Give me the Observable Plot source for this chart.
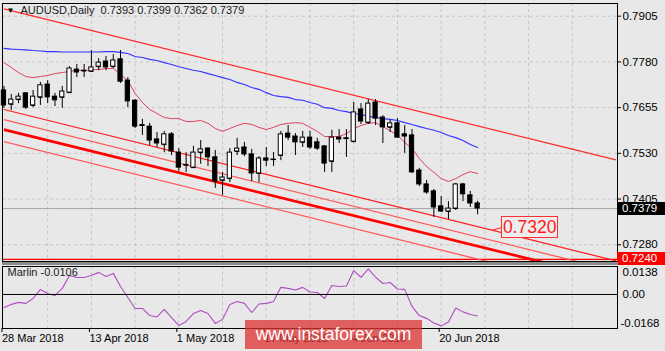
<!DOCTYPE html>
<html><head><meta charset="utf-8">
<script src="https://cdn.jsdelivr.net/npm/d3@7"></script>
<script src="https://cdn.jsdelivr.net/npm/@observablehq/plot@0.6"></script>
<style>
html,body{margin:0;padding:0;background:#e8e8e8;}
#wrap{position:relative;width:665px;height:351px;background:#e8e8e8;overflow:hidden;font-family:"Liberation Sans",Arial,sans-serif;}
#wrap svg{position:absolute;left:0;}
.box{position:absolute;box-sizing:border-box;color:#fff;font-size:11.5px;line-height:12px;padding-left:5px;}
</style></head><body><div id="wrap"></div>
<script>
// ---- data ----
const symbol = "AUDUSD", period = "Daily";
const open = [0.7702,0.7664,0.7677,0.7694,0.7661,0.7683,0.7718,0.7685,0.7683,0.7696,
0.7759,0.7755,0.7754,0.7767,0.7781,0.7767,0.7787,0.7729,0.7674,0.7607,
0.7603,0.7568,0.7554,0.7582,0.7532,0.7498,0.7491,0.7532,0.7543,0.7519,
0.7456,0.7461,0.7535,0.7546,0.7527,0.7475,0.7516,0.7513,0.7524,0.7584,
0.7576,0.7560,0.7573,0.7560,0.7549,0.7508,0.7573,0.7571,0.7562,0.7650,
0.7614,0.7669,0.7628,0.7601,0.7612,0.7582,0.7579,0.7483,0.7445,0.7426,
0.7385,0.7371,0.7379,0.7445,0.7415,0.7393];
const high = [0.7713,0.7691,0.7694,0.7696,0.7702,0.7724,0.7729,0.7694,0.7713,0.7767,
0.7773,0.7773,0.7811,0.7789,0.7795,0.7800,0.7811,0.7737,0.7677,0.7623,
0.7612,0.7587,0.7590,0.7587,0.7543,0.7532,0.7549,0.7565,0.7546,0.7538,
0.7478,0.7543,0.7571,0.7560,0.7541,0.7521,0.7546,0.7532,0.7590,0.7606,
0.7584,0.7590,0.7590,0.7571,0.7551,0.7593,0.7595,0.7595,0.7669,0.7666,
0.7677,0.7677,0.7633,0.7620,0.7625,0.7606,0.7595,0.7489,0.7456,0.7431,
0.7412,0.7398,0.7448,0.7448,0.7426,0.7399];
const low = [0.7653,0.7647,0.7666,0.7650,0.7655,0.7661,0.7666,0.7658,0.7653,0.7694,
0.7737,0.7737,0.7751,0.7756,0.7756,0.7762,0.7721,0.7655,0.7598,0.7579,
0.7551,0.7546,0.7532,0.7524,0.7480,0.7478,0.7489,0.7500,0.7494,0.7434,
0.7415,0.7450,0.7524,0.7521,0.7453,0.7450,0.7494,0.7494,0.7510,0.7565,
0.7524,0.7546,0.7541,0.7538,0.7478,0.7478,0.7557,0.7519,0.7560,0.7609,
0.7609,0.7606,0.7557,0.7587,0.7571,0.7530,0.7475,0.7439,0.7418,0.7355,
0.7368,0.7349,0.7374,0.7398,0.7382,0.7362];
const close = [0.7661,0.7677,0.7685,0.7655,0.7685,0.7716,0.7683,0.7675,0.7699,0.7762,
0.7751,0.7756,0.7765,0.7778,0.7765,0.7784,0.7726,0.7672,0.7603,0.7605,
0.7565,0.7557,0.7582,0.7535,0.7491,0.7497,0.7532,0.7541,0.7519,0.7453,
0.7464,0.7532,0.7543,0.7527,0.7475,0.7516,0.7510,0.7512,0.7582,0.7573,
0.7560,0.7573,0.7546,0.7543,0.7502,0.7573,0.7568,0.7569,0.7642,0.7617,
0.7666,0.7625,0.7601,0.7612,0.7573,0.7576,0.7478,0.7445,0.7423,0.7382,
0.7371,0.7379,0.7445,0.7418,0.7393,0.7379];
const maSlow = [0.7817,0.7815,0.7814,0.7813,0.7811,0.7810,0.7808,0.7808,0.7807,0.7807,
0.7807,0.7807,0.7807,0.7807,0.7808,0.7808,0.7806,0.7803,0.7795,0.7792,
0.7787,0.7784,0.7778,0.7773,0.7767,0.7762,0.7757,0.7754,0.7748,0.7743,
0.7737,0.7732,0.7724,0.7718,0.7710,0.7705,0.7696,0.7688,0.7685,0.7683,
0.7677,0.7675,0.7669,0.7664,0.7655,0.7653,0.7647,0.7644,0.7639,0.7636,
0.7631,0.7628,0.7625,0.7623,0.7620,0.7614,0.7609,0.7603,0.7598,0.7593,
0.7587,0.7579,0.7573,0.7565,0.7554,0.7546];
const maFast = [0.7778,0.7765,0.7751,0.7740,0.7737,0.7740,0.7743,0.7748,0.7751,0.7754,
0.7757,0.7756,0.7759,0.7759,0.7762,0.7762,0.7746,0.7729,0.7694,0.7669,
0.7650,0.7639,0.7628,0.7625,0.7625,0.7617,0.7617,0.7620,0.7612,0.7598,
0.7590,0.7598,0.7606,0.7612,0.7609,0.7601,0.7595,0.7601,0.7609,0.7612,
0.7614,0.7612,0.7601,0.7590,0.7576,0.7576,0.7576,0.7584,0.7598,0.7606,
0.7612,0.7614,0.7603,0.7592,0.7579,0.7560,0.7543,0.7516,0.7494,0.7478,
0.7461,0.7453,0.7461,0.7472,0.7480,0.7475];
const marlin = [-0.0064,-0.0049,-0.0039,-0.0044,-0.0020,0.0025,0.0005,-0.0005,0.0030,0.0094,
0.0084,0.0084,0.0094,0.0109,0.0089,0.0104,0.0039,-0.0015,-0.0069,-0.0069,
-0.0104,-0.0111,-0.0074,-0.0114,-0.0153,-0.0133,-0.0094,-0.0079,-0.0094,-0.0143,
-0.0123,-0.0049,-0.0035,-0.0044,-0.0089,-0.0047,-0.0044,-0.0035,0.0035,0.0030,
0.0022,0.0035,0.0012,0.0010,-0.0020,0.0044,0.0039,0.0042,0.0118,0.0084,
0.0126,0.0086,0.0054,0.0059,0.0027,0.0025,-0.0059,-0.0104,-0.0118,-0.0141,
-0.0155,-0.0136,-0.0067,-0.0086,-0.0099,-0.0106];
const priceTicks = [0.7905,0.7780,0.7655,0.7530,0.7405,0.7280];
const marlinTicks = [0.0138,0.00,-0.0168];
const dateLabels = ["28 Mar 2018","13 Apr 2018","1 May 2018","17 May 2018","4 Jun 2018","20 Jun 2018"];
const labelBars = [0,12,24,36,48,60];
const gridBars = [6,12,18,24,30,36,42,48,54,60,66,72,78];
const channelNames = ["top","A","B","C","D"];
const channelBars = [0,84];
const channelStart = [0.7925,0.7650,0.7622,0.7595,0.7562];
const channelEnd = [0.7512,0.7236,0.7208,0.7183,0.7147];
const bid = 0.7379;
const level = 0.7240;
const target = 0.7320, targetBar = 67;

// ---- drawing ----
const font = '"Liberation Sans", Arial, sans-serif';
const wrap = document.getElementById("wrap");
const grid = "#c4c4c4";
const bars = d3.range(open.length).map(i => ({i, o: open[i], h: high[i], l: low[i], c: close[i]}));
const chStyle = {top:["#ff2b2b",1.2], A:["#ff1c1c",1.2], B:["#ff5c5c",1.3], C:["#ff0000",2.8], D:["#ff5c5c",1.3]};
const channels = channelNames.map((n, k) => ({name: n, x1: channelBars[0], x2: channelBars[1], y1: channelStart[k], y2: channelEnd[k]}));
const last = bars[bars.length - 1];
const title = `${symbol},${period}\u00a0\u00a0${last.o.toFixed(4)} ${last.h.toFixed(4)} ${last.l.toFixed(4)} ${last.c.toFixed(4)}`;
const hw = 0.29;

const main = Plot.plot({
  width: 665, height: 263,
  marginTop: 3, marginBottom: 2, marginLeft: 2, marginRight: 48,
  style: {background: "transparent", fontFamily: font, color: "#000", overflow: "visible"},
  x: {domain: [-0.2, 84.2], axis: null},
  y: {domain: [0.72343, 0.79397], axis: null},
  marks: [
    Plot.ruleX(gridBars, {stroke: grid, strokeDasharray: "3,3"}),
    Plot.ruleY(priceTicks, {stroke: grid, strokeDasharray: "3,3"}),
    Plot.ruleY([bid], {stroke: "#a6a6a6"}),
    Plot.ruleY([level], {stroke: "#ff0000", strokeWidth: 1.2}),
    ...channels.map(ch => Plot.link([ch], {x1: "x1", x2: "x2", y1: "y1", y2: "y2",
        stroke: chStyle[ch.name][0], strokeWidth: chStyle[ch.name][1], clip: true})),
    Plot.link([target], {x1: () => targetBar, y1: d => d, x2: () => targetBar + 1.3, y2: d => d + 0.0007, stroke: "#ff2020"}),
    Plot.line(maSlow, {x: (d, i) => i, y: d => d, stroke: "#3333ff", strokeWidth: 1.1}),
    Plot.line(maFast, {x: (d, i) => i, y: d => d, stroke: "#e0405f", strokeWidth: 1}),
    Plot.ruleX(bars, {x: "i", y1: "l", y2: "h", stroke: "#000", strokeWidth: 1}),
    Plot.rect(bars, {x1: d => d.i - hw, x2: d => d.i + hw, y1: "o", y2: "c",
        fill: d => d.c >= d.o ? "#ffffff" : "#000000", stroke: "#000", strokeWidth: 1}),
    Plot.link(bars, {x1: d => d.i - hw, x2: d => d.i + hw, y1: "o", y2: "o", stroke: "#000", strokeWidth: 1}),
    Plot.text(["\u25BC"], {frameAnchor: "top-left", dx: 4, dy: 4, fontSize: 8, fill: "#000", lineAnchor: "top"}),
    Plot.text([title], {frameAnchor: "top-left", dx: 18, dy: 3, fontSize: 11, fill: "#1a1a1a", lineAnchor: "top", textAnchor: "start"}),
    Plot.frame({stroke: "#000", strokeWidth: 1}),
    Plot.axisY(priceTicks, {anchor: "right", tickFormat: d => d.toFixed(4), tickSize: 3, tickPadding: 2,
        fontSize: 11.5, label: null, stroke: "#000"})
  ]
});
main.style.top = "0px";
wrap.appendChild(main);

const sub = Plot.plot({
  width: 665, height: 88,
  marginTop: 3, marginBottom: 23, marginLeft: 2, marginRight: 48,
  style: {background: "transparent", fontFamily: font, color: "#000", overflow: "visible"},
  x: {domain: [-0.2, 84.2], axis: null},
  y: {domain: [-0.0168, 0.0138], axis: null},
  marks: [
    Plot.ruleX(gridBars, {stroke: grid, strokeDasharray: "3,3"}),
    Plot.ruleY([0], {stroke: grid, strokeDasharray: "3,3"}),
    Plot.line(marlin, {x: (d, i) => i, y: d => d, stroke: "#b04cc4", strokeWidth: 1.1}),
    Plot.text([`Marlin ${marlin[marlin.length - 1].toFixed(4)}`], {frameAnchor: "top-left", dx: 5, dy: 2, fontSize: 11, fill: "#1a1a1a", lineAnchor: "top"}),
    Plot.frame({stroke: "#000", strokeWidth: 1}),
    Plot.axisX(labelBars, {anchor: "bottom", tickSize: 4, tickPadding: 2, fontSize: 11, textAnchor: "start", dx: -2,
        tickFormat: i => dateLabels[labelBars.indexOf(i)], label: null, stroke: "#000"}),
    Plot.tickY(marlinTicks, {x1: () => 84.2, x2: () => 84.75, y: d => d, stroke: "#000", clip: false}),
    Plot.text([marlinTicks[0]], {y: d => d, frameAnchor: "right", dx: 5, dy: 6, textAnchor: "start", fontSize: 11.5, text: d => d.toFixed(4), fill: "#000"}),
    Plot.text([marlinTicks[1]], {y: d => d, frameAnchor: "right", dx: 5, textAnchor: "start", fontSize: 11.5, text: d => d.toFixed(2), fill: "#000"}),
    Plot.text([marlinTicks[2]], {y: d => d, frameAnchor: "right", dx: 3, dy: -5, textAnchor: "start", fontSize: 11.5, text: d => d.toFixed(4), fill: "#000"})
  ]
});
sub.style.top = "263px";
wrap.appendChild(sub);

// price boxes using the main plot's scales
const ys = main.scale("y"), xs = main.scale("x");
function addBox(value, bg, color, border) {
  const d = document.createElement("div");
  d.className = "box";
  const yc = ys.apply(value);
  Object.assign(d.style, {left: "617px", top: (yc - 6.5) + "px", width: "48px", height: "13px", background: bg, color: color});
  d.textContent = value.toFixed(4);
  wrap.appendChild(d);
}
addBox(bid, "#000", "#fff");
addBox(level, "#ff0000", "#fff");

// target annotation box
const tb = document.createElement("div");
const tx = xs.apply(targetBar + 1.3), ty = ys.apply(target + 0.0007);
Object.assign(tb.style, {position: "absolute", left: tx + "px", top: (ty - 11) + "px", width: "57px", height: "22px",
  boxSizing: "border-box", border: "1px solid #ff3030", background: "#ececec", color: "#ff1a1a",
  font: '17.5px "Liberation Sans", Arial, sans-serif', lineHeight: "20px", textAlign: "center"});
tb.textContent = target.toFixed(4);
wrap.appendChild(tb);

// separator between panes
const sep = document.createElement("div");
Object.assign(sep.style, {position: "absolute", left: "2px", top: "262px", width: "616px", height: "3px", background: "#8a8a8a"});
wrap.appendChild(sep);

// watermark
const wm = document.createElement("div");
Object.assign(wm.style, {position: "absolute", left: "245px", top: "320px", width: "177px", height: "29px",
  background: "rgba(220,50,50,0.76)", color: "#fff", font: '17.5px "Liberation Sans", Arial, sans-serif',
  lineHeight: "29px", textAlign: "center"});
wm.textContent = "www.instaforex.com";
wrap.appendChild(wm);
</script></body></html>
